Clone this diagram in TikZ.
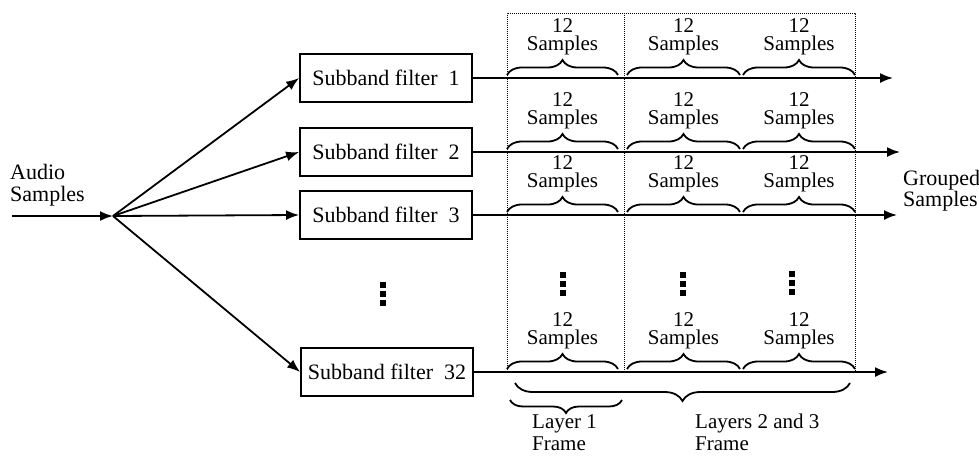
\documentclass[tikz,border=0pt]{standalone}
\usepackage{fontspec}
\setmainfont{Liberation Serif}
\usetikzlibrary{arrows.meta,decorations.pathreplacing}
\begin{document}
\begin{tikzpicture}[x=1pt,y=-1pt,
  arr/.style={line width=1.8pt,-{Latex[length=13pt,width=10pt]}},
  filt/.style={draw,line width=1.8pt,minimum width=172pt,minimum height=48pt,inner sep=0pt,font=\fontsize{22}{24}\selectfont},
  txt/.style={font=\fontsize{21}{18}\selectfont,align=center,inner sep=0pt},
  lbl/.style={font=\fontsize{22}{22}\selectfont,align=left,inner sep=0pt},
  rowbrace/.style={decorate,decoration={brace,amplitude=15pt},line width=1.8pt},
  framebrace/.style={decorate,decoration={brace,amplitude=#1},line width=1.8pt},
  dots/.style={line width=1pt,densely dotted}]
\useasboundingbox (0,0) rectangle (979,458);

% filter boxes
\node[filt] (f1) at (386,78) {Subband filter~~1};
\node[filt] (f2) at (386,152) {Subband filter~~2};
\node[filt] (f3) at (386,215) {Subband filter~~3};
\node[filt] (f32) at (387,372) {Subband filter~~32};

% input
\node[lbl,anchor=west] (audio) at (10,185) {Audio\\Samples};
\coordinate (in) at (12,216);
\coordinate (J) at (113,216);
\draw[arr] (in) -- (J);
\draw[arr] (J) -- (f1.west);
\draw[arr] (J) -- (f2.west);
\draw[arr] (J) -- (f3.west);
\draw[arr] (J) -- (f32.west);

% outputs
\coordinate (o1) at (893,78);
\coordinate (o2) at (900,152);
\coordinate (o3) at (897,215);
\coordinate (o32) at (888,372);
\draw[arr] (f1) -- (o1);
\draw[arr] (f2) -- (o2);
\draw[arr] (f3) -- (o3);
\draw[arr] (f32) -- (o32);
\node[lbl,anchor=west,font=\fontsize{22}{21}\selectfont] (grouped) at (903,191) {Grouped\\Samples};

% dotted frame
\coordinate (tl) at (507,13);
\coordinate (tr) at (855,13);
\coordinate (bl) at (507,372);
\coordinate (br) at (855,372);
\coordinate (tm) at (624,13);
\coordinate (bm) at (624,372);
\draw[dots] (bl) -- (tl) -- (tr) -- (br);
\draw[dots] (tm) -- (bm);

% braces with labels
\foreach \y in {78,152,215,372} {
  \foreach \a/\b in {507/618,627/740,743/855} {
    \draw[rowbrace] (\a,\y-3) -- (\b,\y-3);
    \node[txt,anchor=south] (s-\y-\a) at ({(\a+\b)/2},\y-23) {12\\Samples};
  }
}

% vertical ellipses
\foreach \x/\y in {383/285,563/275,683/275,792/274} {
  \foreach \k in {0,1,2} {
    \fill (\x-3,\y+\k*9-3) rectangle ++(6,6);
  }
}

% frame braces
\draw[framebrace=18pt] (850,383) -- (515,383);
\draw[framebrace=13pt] (622,400) -- (510,400);
\node[lbl,anchor=north west,font=\fontsize{21}{22}\selectfont] (l1) at (532,414) {Layer 1\\Frame};
\node[lbl,anchor=north west,font=\fontsize{21}{22}\selectfont] (l23) at (695,414) {Layers 2 and 3\\Frame};
\end{tikzpicture}
\end{document}
